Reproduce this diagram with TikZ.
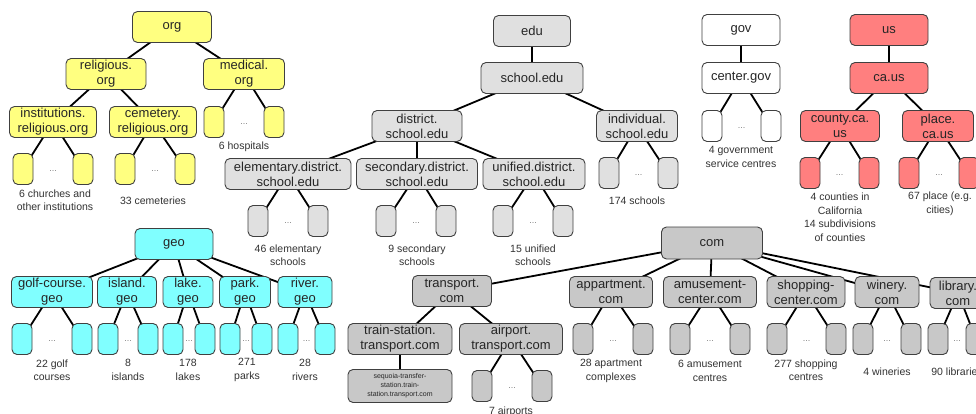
\documentclass[tikz,border=0pt]{standalone}
\usepackage{fontspec}
\setmainfont{Liberation Sans}
\pgfdeclarelayer{bg}
\pgfsetlayers{bg,main}
\definecolor{yel}{HTML}{FFFF80}
\definecolor{cyn}{HTML}{80FFFF}
\definecolor{rd}{HTML}{FF7F7F}
\definecolor{gl}{HTML}{E0E0E0}
\definecolor{gd}{HTML}{C8C8C8}
\definecolor{bord}{HTML}{404040}
\definecolor{txt}{HTML}{262626}
\definecolor{lbltxt}{HTML}{333333}
\tikzset{
 box/.style={draw=bord, line width=0.9pt, rounded corners=5pt, align=center, inner sep=1pt, minimum height=31pt, text=txt, font=\fontsize{13}{15}\selectfont},
 leaf/.style={draw=bord, line width=0.9pt, rounded corners=5pt, minimum width=20pt, minimum height=31pt, inner sep=0pt},
 lbl/.style={align=center, text=lbltxt, font=\fontsize{10.5}{13.5}\selectfont, inner sep=0pt},
 dotsty/.style={text=gray, font=\fontsize{9}{9}\selectfont, inner sep=0pt},
 conn/.style={line width=1.8pt, black},
}
\newcommand\LeafPair[6]{%
 \node[leaf, fill=#6] (#1L) at (#3,#5) {};
 \node[leaf, fill=#6] (#1R) at (#4,#5) {};
 \node[dotsty] (#1D) at ({(#3+#4)/2},{#5+2}) {...};
 \begin{pgfonlayer}{bg}
 \draw[conn] (#2.center) -- (#1L.center);
 \draw[conn] (#2.center) -- (#1R.center);
 \end{pgfonlayer}
}
\begin{document}
\begin{tikzpicture}[x=1pt, y=-1pt]
\begin{pgfonlayer}{bg}
\fill[white] (0,0) rectangle (976,414);
\end{pgfonlayer}
\useasboundingbox (0,0) rectangle (976,414);

% ---------- org ----------
\node[box, fill=yel, minimum width=79pt] (org) at (172,27) {org};
\node[box, fill=yel, minimum width=80pt] (rel) at (106,74) {religious.\\org};
\node[box, fill=yel, minimum width=81pt] (med) at (244,74) {medical.\\org};
\node[box, fill=yel, minimum width=87pt] (inst) at (53,122) {institutions.\\religious.org};
\node[box, fill=yel, minimum width=87pt] (cem) at (153,122) {cemetery.\\religious.org};
\LeafPair{instl}{inst}{23}{83}{169}{yel}
\LeafPair{ceml}{cem}{125}{185}{169}{yel}
\LeafPair{medl}{med}{214}{274}{122}{yel}
\node[lbl] (instt) at (55,200) {6 churches and\\other institutions};
\node[lbl] (cemt) at (153,201) {33 cemeteries};
\node[lbl] (medt) at (244,147) {6 hospitals};

% ---------- edu ----------
\node[box, fill=gl, minimum width=77pt] (edu) at (532,31) {edu};
\node[box, fill=gl, minimum width=102pt] (sch) at (532,78) {school.edu};
\node[box, fill=gl, minimum width=90pt] (dist) at (417,126) {district.\\school.edu};
\node[box, fill=gl, minimum width=81pt] (indiv) at (637,126) {individual.\\school.edu};
\node[box, fill=gl, minimum width=126pt] (elem) at (288,174) {elementary.district.\\school.edu};
\node[box, fill=gl, minimum width=121pt] (sec) at (417,174) {secondary.district.\\school.edu};
\node[box, fill=gl, minimum width=102pt] (uni) at (534,174) {unified.district.\\school.edu};
\LeafPair{eleml}{elem}{258}{318}{221}{gl}
\LeafPair{secl}{sec}{386}{446}{221}{gl}
\LeafPair{unil}{uni}{503}{563}{221}{gl}
\LeafPair{indl}{indiv}{609}{668}{173}{gl}
\node[lbl] (elemt) at (288,255) {46 elementary\\schools};
\node[lbl] (sect) at (417,255) {9 secondary\\schools};
\node[lbl] (unit) at (533,255) {15 unified\\schools};
\node[lbl] (indt) at (637,201) {174 schools};

% ---------- gov ----------
\node[box, fill=white, minimum width=78pt] (gov) at (741,30) {gov};
\node[box, fill=white, minimum width=78pt] (cgov) at (741,78) {center.gov};
\LeafPair{govl}{cgov}{712}{771}{126}{white}
\node[lbl] (govt) at (741,157) {4 government\\service centres};

% ---------- us ----------
\node[box, fill=rd, minimum width=78pt] (us) at (889,30) {us};
\node[box, fill=rd, minimum width=78pt] (caus) at (889,78) {ca.us};
\node[box, fill=rd, minimum width=79pt] (county) at (840,126) {county.ca.\\us};
\node[box, fill=rd, minimum width=71pt] (place) at (938,126) {place.\\ca.us};
\LeafPair{cntl}{county}{810}{869}{173}{rd}
\LeafPair{plcl}{place}{909}{969}{173}{rd}
\node[lbl] (cntt) at (840,217) {4 counties in\\California\\14 subdivisions\\of counties};
\node[lbl] (plct) at (940,204) {67 place (e.g.\\cities)};

% ---------- geo ----------
\node[box, fill=cyn, minimum width=78pt] (geo) at (174,244) {geo};
\node[box, fill=cyn, minimum width=81pt] (golf) at (52,292) {golf-course.\\geo};
\node[box, fill=cyn, minimum width=59pt] (isl) at (127,292) {island.\\geo};
\node[box, fill=cyn, minimum width=50pt] (lake) at (188,292) {lake.\\geo};
\node[box, fill=cyn, minimum width=51pt] (park) at (245,292) {park.\\geo};
\node[box, fill=cyn, minimum width=54pt] (river) at (305,292) {river.\\geo};
\LeafPair{golfl}{golf}{22}{82}{339}{cyn}
\LeafPair{isll}{isl}{108}{148}{339}{cyn}
\LeafPair{lakel}{lake}{173}{205}{339}{cyn}
\LeafPair{parkl}{park}{230}{262}{339}{cyn}
\LeafPair{riverl}{river}{288}{325}{339}{cyn}
\node[lbl] (golft) at (52,370) {22 golf\\courses};
\node[lbl] (islt) at (128,370) {8\\islands};
\node[lbl] (laket) at (188,370) {178\\lakes};
\node[lbl] (parkt) at (247,370) {271\\parks};
\node[lbl] (rivert) at (305,370) {28\\rivers};

% ---------- com ----------
\node[box, fill=gd, minimum width=101pt, minimum height=32pt] (com) at (712,243) {com};
\node[box, fill=gd, minimum width=79pt] (trans) at (452,291) {transport.\\com};
\node[box, fill=gd, minimum width=83pt] (app) at (611,292) {appartment.\\com};
\node[box, fill=gd, minimum width=93pt] (amus) at (710,292) {amusement-\\center.com};
\node[box, fill=gd, minimum width=78pt] (shop) at (806,292) {shopping-\\center.com};
\node[box, fill=gd, minimum width=64pt] (win) at (887,292) {winery.\\com};
\node[box, fill=gd, minimum width=56pt] (lib) at (958,293) {library.\\com};
\node[box, fill=gd, minimum width=104pt] (train) at (400,339) {train-station.\\transport.com};
\node[box, fill=gd, minimum width=103pt] (air) at (511,339) {airport.\\transport.com};
\node[box, fill=gd, minimum width=104pt, minimum height=33pt, font=\fontsize{7}{9}\selectfont] (seq) at (400,386) {sequoia-transfer-\\station.train-\\station.transport.com};
\LeafPair{airl}{air}{482}{542}{386}{gd}
\LeafPair{appl}{app}{583}{643}{339}{gd}
\LeafPair{amusl}{amus}{680}{740}{339}{gd}
\LeafPair{shopl}{shop}{777}{836}{339}{gd}
\LeafPair{winl}{win}{863}{911}{339}{gd}
\LeafPair{libl}{lib}{938}{976}{339}{gd}
\node[lbl] (airt) at (511,412) {7 airports};
\node[lbl] (appt) at (611,371) {28 apartment\\complexes};
\node[lbl] (amust) at (710,371) {6 amusement\\centres};
\node[lbl] (shopt) at (806,370) {277 shopping\\centres};
\node[lbl] (wint) at (887,372) {4 wineries};
\node[lbl] (libt) at (957,372) {90 libraries};

% ---------- connectors ----------
\begin{pgfonlayer}{bg}
\foreach \a/\b in {org/rel, org/med, rel/inst, rel/cem, edu/sch, sch/dist, sch/indiv, dist/elem, dist/sec, dist/uni, gov/cgov, us/caus, caus/county, caus/place, geo/golf, geo/isl, geo/lake, geo/park, geo/river, com/trans, com/app, com/amus, com/shop, com/win, com/lib, trans/train, trans/air, train/seq}
 \draw[conn] (\a.center) -- (\b.center);
\end{pgfonlayer}
\end{tikzpicture}
\end{document}
